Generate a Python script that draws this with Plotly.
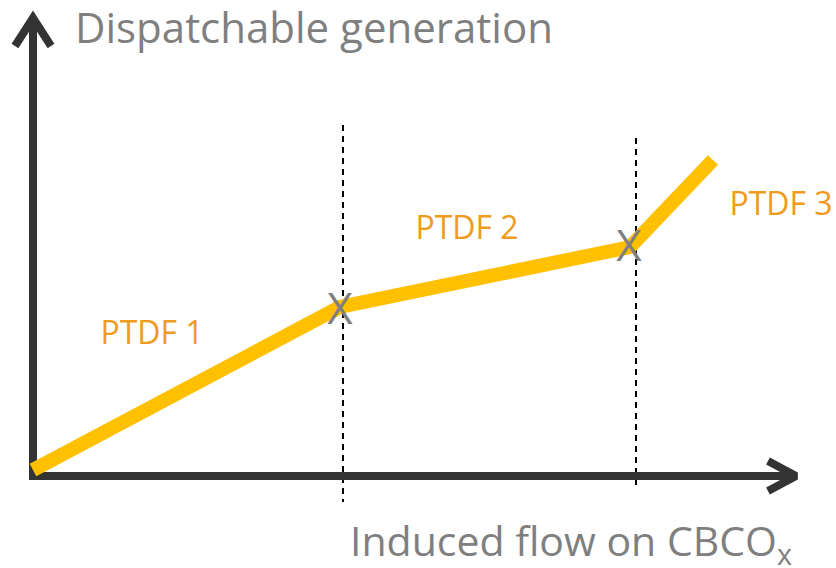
import plotly.graph_objects as go

# Piecewise-linear curve breakpoints (induced flow, dispatchable generation) in drawing units
flow_pts = [33, 340, 630, 713]
gen_pts = [470, 307, 247, 160]

# Segment labels
segment_labels = ["PTDF 1", "PTDF 2", "PTDF 3"]
label_x = [152, 467, 781]
label_y = [336, 231, 207]

# Breakpoint markers
break_x = [340, 629]
break_y = [313, 250]

# Vertical dashed lines
dash_x = [343, 636]
dash_top = [125, 138]
dash_bottom = [502, 490]

axis_color = "#333333"
curve_color = "#FFC000"
label_color = "#EE9B1E"
grey = "#7F7F7F"

fig = go.Figure()

# dashed verticals
for x, t, b in zip(dash_x, dash_top, dash_bottom):
    fig.add_trace(go.Scatter(x=[x, x], y=[t, b], mode="lines",
                             line=dict(color="black", width=2, dash="6px,5px"),
                             hoverinfo="skip"))

# axes
fig.add_trace(go.Scatter(x=[33, 33, 795], y=[18, 476, 476], mode="lines",
                         line=dict(color=axis_color, width=8), hoverinfo="skip"))
fig.add_trace(go.Scatter(x=[15, 33, 51], y=[46, 18, 46], mode="lines",
                         line=dict(color=axis_color, width=8), hoverinfo="skip"))
fig.add_trace(go.Scatter(x=[768, 796, 768], y=[461, 476, 491], mode="lines",
                         line=dict(color=axis_color, width=8), hoverinfo="skip"))

# curve
fig.add_trace(go.Scatter(x=flow_pts, y=gen_pts, mode="lines",
                         line=dict(color=curve_color, width=14), hoverinfo="skip"))

# X markers
fig.add_trace(go.Scatter(x=break_x, y=break_y, mode="text", text=["X", "X"],
                         textfont=dict(family="Open Sans", size=44, color=grey),
                         textposition="middle center", hoverinfo="skip",
                         cliponaxis=False))

# segment labels
fig.add_trace(go.Scatter(x=label_x, y=label_y, mode="text", text=segment_labels,
                         textfont=dict(family="Open Sans", size=32, color=label_color),
                         textposition="middle center", hoverinfo="skip",
                         cliponaxis=False))

fig.add_annotation(x=73, y=26, xref="x", yref="y", text="Dispatchable generation",
                   showarrow=False, xanchor="left", yanchor="middle",
                   font=dict(family="Open Sans", size=42, color=grey))
fig.add_annotation(x=348, y=542, xref="x", yref="y", text="Induced flow on CBCO<sub>x</sub>",
                   showarrow=False, xanchor="left", yanchor="middle",
                   font=dict(family="Open Sans", size=41, color=grey))

fig.update_layout(
    width=836, height=568,
    margin=dict(l=0, r=0, t=0, b=0),
    paper_bgcolor="white", plot_bgcolor="white",
    showlegend=False,
    hovermode=False,
    xaxis=dict(range=[0, 836], visible=False, fixedrange=True),
    yaxis=dict(range=[568, 0], visible=False, fixedrange=True),
)

fig.write_html(
    "out.html",
    config={"displayModeBar": False, "staticPlot": True},
    post_script="document.body.style.margin='0';document.body.style.overflow='hidden';",
)
